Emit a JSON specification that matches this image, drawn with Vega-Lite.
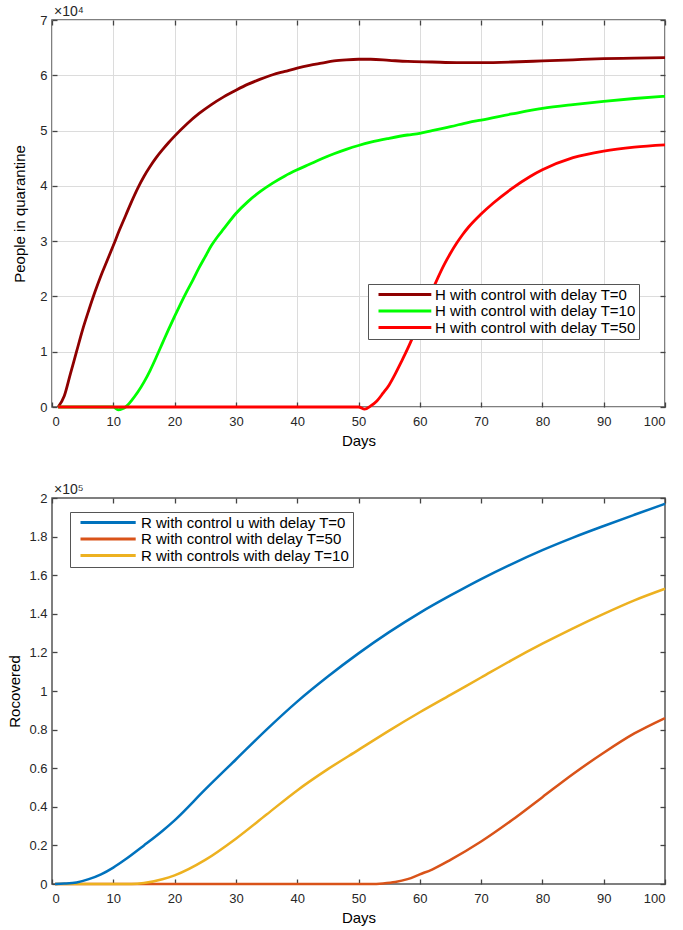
{
  "$schema": "https://vega.github.io/schema/vega-lite/v6.json",
  "background": "white",
  "padding": {"left": 7, "top": 4, "right": 5, "bottom": 5},
  "config": {
    "font": "Liberation Sans",
    "view": {"stroke": "#555555", "strokeWidth": 1.5},
    "axis": {
      "labelFont": "Liberation Sans", "labelFontSize": 13, "labelColor": "#262626",
      "titleFont": "Liberation Sans", "titleFontSize": 15, "titleFontWeight": "normal", "titleColor": "#000000",
      "domain": false, "tickColor": "#444444", "tickSize": -5, "tickWidth": 1.3
    },
    "title": {"anchor": "start", "frame": "group", "fontSize": 14, "fontWeight": "normal", "color": "#262626", "offset": -5, "dx": 2, "font": "Liberation Sans"},
    "legend": {
      "orient": "none", "title": null, "symbolStrokeWidth": 3, "symbolSize": 144,
      "labelFont": "Liberation Sans", "labelFontSize": 15, "labelColor": "#000000",
      "strokeColor": "#555555", "fillColor": "white", "padding": 3, "rowPadding": 0.5, "labelLimit": 400
    }
  },
  "datasets": {
    "top": [
      {"s": "H with control with delay T=0", "d": 1, "v": 0},
      {"s": "H with control with delay T=0", "d": 2, "v": 2000},
      {"s": "H with control with delay T=0", "d": 3, "v": 6000},
      {"s": "H with control with delay T=0", "d": 4, "v": 10000},
      {"s": "H with control with delay T=0", "d": 5, "v": 14000},
      {"s": "H with control with delay T=0", "d": 6, "v": 17500},
      {"s": "H with control with delay T=0", "d": 7, "v": 20800},
      {"s": "H with control with delay T=0", "d": 8, "v": 23800},
      {"s": "H with control with delay T=0", "d": 9, "v": 26500},
      {"s": "H with control with delay T=0", "d": 10, "v": 29200},
      {"s": "H with control with delay T=0", "d": 11, "v": 32000},
      {"s": "H with control with delay T=0", "d": 12, "v": 34600},
      {"s": "H with control with delay T=0", "d": 13, "v": 37200},
      {"s": "H with control with delay T=0", "d": 14, "v": 39600},
      {"s": "H with control with delay T=0", "d": 15, "v": 41700},
      {"s": "H with control with delay T=0", "d": 16, "v": 43500},
      {"s": "H with control with delay T=0", "d": 17, "v": 45100},
      {"s": "H with control with delay T=0", "d": 18, "v": 46500},
      {"s": "H with control with delay T=0", "d": 19, "v": 47800},
      {"s": "H with control with delay T=0", "d": 20, "v": 49000},
      {"s": "H with control with delay T=0", "d": 22, "v": 51200},
      {"s": "H with control with delay T=0", "d": 24, "v": 53100},
      {"s": "H with control with delay T=0", "d": 26, "v": 54700},
      {"s": "H with control with delay T=0", "d": 28, "v": 56100},
      {"s": "H with control with delay T=0", "d": 30, "v": 57300},
      {"s": "H with control with delay T=0", "d": 32, "v": 58400},
      {"s": "H with control with delay T=0", "d": 34, "v": 59300},
      {"s": "H with control with delay T=0", "d": 36, "v": 60100},
      {"s": "H with control with delay T=0", "d": 38, "v": 60700},
      {"s": "H with control with delay T=0", "d": 40, "v": 61300},
      {"s": "H with control with delay T=0", "d": 42, "v": 61800},
      {"s": "H with control with delay T=0", "d": 44, "v": 62200},
      {"s": "H with control with delay T=0", "d": 46, "v": 62600},
      {"s": "H with control with delay T=0", "d": 48, "v": 62800},
      {"s": "H with control with delay T=0", "d": 50, "v": 62900},
      {"s": "H with control with delay T=0", "d": 52, "v": 62900},
      {"s": "H with control with delay T=0", "d": 55, "v": 62700},
      {"s": "H with control with delay T=0", "d": 58, "v": 62500},
      {"s": "H with control with delay T=0", "d": 62, "v": 62400},
      {"s": "H with control with delay T=0", "d": 66, "v": 62300},
      {"s": "H with control with delay T=0", "d": 70, "v": 62300},
      {"s": "H with control with delay T=0", "d": 75, "v": 62400},
      {"s": "H with control with delay T=0", "d": 80, "v": 62600},
      {"s": "H with control with delay T=0", "d": 85, "v": 62800},
      {"s": "H with control with delay T=0", "d": 90, "v": 63000},
      {"s": "H with control with delay T=0", "d": 95, "v": 63100},
      {"s": "H with control with delay T=0", "d": 100, "v": 63200},
      {"s": "H with control with delay T=10", "d": 1, "v": 0},
      {"s": "H with control with delay T=10", "d": 10, "v": 0},
      {"s": "H with control with delay T=10", "d": 10.8, "v": -500},
      {"s": "H with control with delay T=10", "d": 11.5, "v": -300},
      {"s": "H with control with delay T=10", "d": 12, "v": 0},
      {"s": "H with control with delay T=10", "d": 13, "v": 1200},
      {"s": "H with control with delay T=10", "d": 14, "v": 2700},
      {"s": "H with control with delay T=10", "d": 15, "v": 4500},
      {"s": "H with control with delay T=10", "d": 16, "v": 6600},
      {"s": "H with control with delay T=10", "d": 17, "v": 9000},
      {"s": "H with control with delay T=10", "d": 18, "v": 11500},
      {"s": "H with control with delay T=10", "d": 19, "v": 14000},
      {"s": "H with control with delay T=10", "d": 20, "v": 16400},
      {"s": "H with control with delay T=10", "d": 21, "v": 18700},
      {"s": "H with control with delay T=10", "d": 22, "v": 20900},
      {"s": "H with control with delay T=10", "d": 23, "v": 23000},
      {"s": "H with control with delay T=10", "d": 24, "v": 25200},
      {"s": "H with control with delay T=10", "d": 25, "v": 27200},
      {"s": "H with control with delay T=10", "d": 26, "v": 29200},
      {"s": "H with control with delay T=10", "d": 27, "v": 30800},
      {"s": "H with control with delay T=10", "d": 28, "v": 32200},
      {"s": "H with control with delay T=10", "d": 30, "v": 35000},
      {"s": "H with control with delay T=10", "d": 32, "v": 37200},
      {"s": "H with control with delay T=10", "d": 34, "v": 39000},
      {"s": "H with control with delay T=10", "d": 36, "v": 40500},
      {"s": "H with control with delay T=10", "d": 38, "v": 41800},
      {"s": "H with control with delay T=10", "d": 40, "v": 42900},
      {"s": "H with control with delay T=10", "d": 42, "v": 43900},
      {"s": "H with control with delay T=10", "d": 44, "v": 44900},
      {"s": "H with control with delay T=10", "d": 46, "v": 45800},
      {"s": "H with control with delay T=10", "d": 48, "v": 46600},
      {"s": "H with control with delay T=10", "d": 50, "v": 47300},
      {"s": "H with control with delay T=10", "d": 52, "v": 47900},
      {"s": "H with control with delay T=10", "d": 55, "v": 48600},
      {"s": "H with control with delay T=10", "d": 58, "v": 49200},
      {"s": "H with control with delay T=10", "d": 60, "v": 49500},
      {"s": "H with control with delay T=10", "d": 62, "v": 50000},
      {"s": "H with control with delay T=10", "d": 65, "v": 50700},
      {"s": "H with control with delay T=10", "d": 68, "v": 51500},
      {"s": "H with control with delay T=10", "d": 70, "v": 51900},
      {"s": "H with control with delay T=10", "d": 75, "v": 53000},
      {"s": "H with control with delay T=10", "d": 80, "v": 54000},
      {"s": "H with control with delay T=10", "d": 85, "v": 54700},
      {"s": "H with control with delay T=10", "d": 90, "v": 55300},
      {"s": "H with control with delay T=10", "d": 95, "v": 55800},
      {"s": "H with control with delay T=10", "d": 100, "v": 56200},
      {"s": "H with control with delay T=50", "d": 1, "v": 0},
      {"s": "H with control with delay T=50", "d": 50, "v": 0},
      {"s": "H with control with delay T=50", "d": 51, "v": -400},
      {"s": "H with control with delay T=50", "d": 52, "v": 200},
      {"s": "H with control with delay T=50", "d": 53, "v": 1100},
      {"s": "H with control with delay T=50", "d": 54, "v": 2500},
      {"s": "H with control with delay T=50", "d": 55, "v": 4000},
      {"s": "H with control with delay T=50", "d": 56, "v": 6000},
      {"s": "H with control with delay T=50", "d": 57, "v": 8200},
      {"s": "H with control with delay T=50", "d": 58, "v": 10500},
      {"s": "H with control with delay T=50", "d": 59, "v": 13000},
      {"s": "H with control with delay T=50", "d": 60, "v": 15600},
      {"s": "H with control with delay T=50", "d": 61, "v": 18300},
      {"s": "H with control with delay T=50", "d": 62, "v": 21000},
      {"s": "H with control with delay T=50", "d": 63, "v": 23500},
      {"s": "H with control with delay T=50", "d": 64, "v": 25800},
      {"s": "H with control with delay T=50", "d": 65, "v": 27800},
      {"s": "H with control with delay T=50", "d": 66, "v": 29600},
      {"s": "H with control with delay T=50", "d": 67, "v": 31200},
      {"s": "H with control with delay T=50", "d": 68, "v": 32600},
      {"s": "H with control with delay T=50", "d": 70, "v": 34900},
      {"s": "H with control with delay T=50", "d": 72, "v": 36900},
      {"s": "H with control with delay T=50", "d": 75, "v": 39500},
      {"s": "H with control with delay T=50", "d": 78, "v": 41700},
      {"s": "H with control with delay T=50", "d": 80, "v": 42900},
      {"s": "H with control with delay T=50", "d": 85, "v": 45100},
      {"s": "H with control with delay T=50", "d": 90, "v": 46300},
      {"s": "H with control with delay T=50", "d": 95, "v": 47000},
      {"s": "H with control with delay T=50", "d": 100, "v": 47400}
    ],
    "bottom": [
      {"s": "R with control with delay T=50", "d": 0.5, "v": 0},
      {"s": "R with control with delay T=50", "d": 52, "v": 0},
      {"s": "R with control with delay T=50", "d": 54, "v": 300},
      {"s": "R with control with delay T=50", "d": 56, "v": 1000},
      {"s": "R with control with delay T=50", "d": 58, "v": 2500},
      {"s": "R with control with delay T=50", "d": 60, "v": 5000},
      {"s": "R with control with delay T=50", "d": 62, "v": 7500},
      {"s": "R with control with delay T=50", "d": 65, "v": 12500},
      {"s": "R with control with delay T=50", "d": 70, "v": 22000},
      {"s": "R with control with delay T=50", "d": 75, "v": 33000},
      {"s": "R with control with delay T=50", "d": 80, "v": 45000},
      {"s": "R with control with delay T=50", "d": 85, "v": 57000},
      {"s": "R with control with delay T=50", "d": 90, "v": 68000},
      {"s": "R with control with delay T=50", "d": 95, "v": 78000},
      {"s": "R with control with delay T=50", "d": 100, "v": 86000},
      {"s": "R with controls with delay T=10", "d": 0.5, "v": 0},
      {"s": "R with controls with delay T=10", "d": 13, "v": 0},
      {"s": "R with controls with delay T=10", "d": 15, "v": 500},
      {"s": "R with controls with delay T=10", "d": 18, "v": 2500},
      {"s": "R with controls with delay T=10", "d": 20, "v": 4500},
      {"s": "R with controls with delay T=10", "d": 25, "v": 12500},
      {"s": "R with controls with delay T=10", "d": 30, "v": 23500},
      {"s": "R with controls with delay T=10", "d": 35, "v": 36000},
      {"s": "R with controls with delay T=10", "d": 40, "v": 48500},
      {"s": "R with controls with delay T=10", "d": 45, "v": 59500},
      {"s": "R with controls with delay T=10", "d": 50, "v": 69500},
      {"s": "R with controls with delay T=10", "d": 55, "v": 79500},
      {"s": "R with controls with delay T=10", "d": 60, "v": 89000},
      {"s": "R with controls with delay T=10", "d": 65, "v": 98000},
      {"s": "R with controls with delay T=10", "d": 70, "v": 107000},
      {"s": "R with controls with delay T=10", "d": 75, "v": 116000},
      {"s": "R with controls with delay T=10", "d": 80, "v": 124500},
      {"s": "R with controls with delay T=10", "d": 85, "v": 132500},
      {"s": "R with controls with delay T=10", "d": 90, "v": 140000},
      {"s": "R with controls with delay T=10", "d": 95, "v": 147000},
      {"s": "R with controls with delay T=10", "d": 100, "v": 153000},
      {"s": "R with control u with delay T=0", "d": 0.5, "v": 0},
      {"s": "R with control u with delay T=0", "d": 2, "v": 200},
      {"s": "R with control u with delay T=0", "d": 4, "v": 800},
      {"s": "R with control u with delay T=0", "d": 6, "v": 2500},
      {"s": "R with control u with delay T=0", "d": 8, "v": 5000},
      {"s": "R with control u with delay T=0", "d": 10, "v": 8500},
      {"s": "R with control u with delay T=0", "d": 12, "v": 12800},
      {"s": "R with control u with delay T=0", "d": 15, "v": 20000},
      {"s": "R with control u with delay T=0", "d": 18, "v": 27500},
      {"s": "R with control u with delay T=0", "d": 20, "v": 33000},
      {"s": "R with control u with delay T=0", "d": 25, "v": 49000},
      {"s": "R with control u with delay T=0", "d": 30, "v": 64500},
      {"s": "R with control u with delay T=0", "d": 35, "v": 80000},
      {"s": "R with control u with delay T=0", "d": 40, "v": 94500},
      {"s": "R with control u with delay T=0", "d": 45, "v": 107500},
      {"s": "R with control u with delay T=0", "d": 50, "v": 119500},
      {"s": "R with control u with delay T=0", "d": 55, "v": 130500},
      {"s": "R with control u with delay T=0", "d": 60, "v": 140500},
      {"s": "R with control u with delay T=0", "d": 65, "v": 149500},
      {"s": "R with control u with delay T=0", "d": 70, "v": 158000},
      {"s": "R with control u with delay T=0", "d": 75, "v": 165800},
      {"s": "R with control u with delay T=0", "d": 80, "v": 173000},
      {"s": "R with control u with delay T=0", "d": 85, "v": 179500},
      {"s": "R with control u with delay T=0", "d": 90, "v": 185500},
      {"s": "R with control u with delay T=0", "d": 95, "v": 191300},
      {"s": "R with control u with delay T=0", "d": 100, "v": 197000}
    ]
  },
  "spacing": 91,
  "bounds": "flush",
  "resolve": {"scale": {"color": "independent"}, "legend": {"color": "independent"}},
  "vconcat": [
    {
      "width": 613, "height": 387,
      "data": {"name": "top"},
      "title": {"text": "×10⁴"},
      "resolve": {"axis": {"x": "independent", "y": "independent"}},
      "layer": [
        {
          "mark": {"type": "line", "strokeWidth": 2.8, "interpolate": "monotone"},
          "encoding": {
            "x": {"field": "d", "type": "quantitative", "scale": {"domain": [0, 100], "nice": false},
              "axis": {"orient": "bottom", "title": "Days", "values": [0,10,20,30,40,50,60,70,80,90,100], "grid": true, "gridColor": "#dcdcdc", "labelPadding": 13, "titlePadding": 5}},
            "y": {"field": "v", "type": "quantitative", "scale": {"domain": [0, 70000], "nice": false},
              "axis": {"orient": "left", "title": "People in quarantine", "values": [0,10000,20000,30000,40000,50000,60000,70000], "grid": true, "gridColor": "#dcdcdc", "labelPadding": 10, "titlePadding": 12, "labelExpr": "format(datum.value/10000, 'd')"}},
            "color": {"field": "s", "type": "nominal",
              "scale": {"domain": ["H with control with delay T=0", "H with control with delay T=10", "H with control with delay T=50"], "range": ["#8e0000", "#00ff00", "#ff0000"]},
              "legend": {"legendX": 316, "legendY": 264, "symbolType": "M0,0H8.8", "labelOffset": 49}}
          }
        },
        {
          "mark": {"type": "line", "opacity": 0},
          "encoding": {
            "x": {"field": "d", "type": "quantitative", "axis": {"orient": "top", "labels": false, "title": null, "grid": false, "values": [0,10,20,30,40,50,60,70,80,90,100]}},
            "y": {"field": "v", "type": "quantitative", "axis": {"orient": "right", "labels": false, "title": null, "grid": false, "values": [0,10000,20000,30000,40000,50000,60000,70000]}}
          }
        }
      ]
    },
    {
      "width": 613, "height": 386,
      "data": {"name": "bottom"},
      "title": {"text": "×10⁵"},
      "resolve": {"axis": {"x": "independent", "y": "independent"}},
      "layer": [
        {
          "mark": {"type": "line", "strokeWidth": 2.5, "interpolate": "monotone"},
          "encoding": {
            "x": {"field": "d", "type": "quantitative", "scale": {"domain": [0, 100], "nice": false},
              "axis": {"orient": "bottom", "title": "Days", "values": [0,10,20,30,40,50,60,70,80,90,100], "grid": false, "labelPadding": 13, "titlePadding": 5}},
            "y": {"field": "v", "type": "quantitative", "scale": {"domain": [0, 200000], "nice": false},
              "axis": {"orient": "left", "title": "Rocovered", "values": [0,20000,40000,60000,80000,100000,120000,140000,160000,180000,200000], "grid": false, "labelPadding": 10, "titlePadding": 6, "labelExpr": "format(datum.value/100000, '~g')"}},
            "color": {"field": "s", "type": "nominal",
              "scale": {"domain": ["R with control u with delay T=0", "R with control with delay T=50", "R with controls with delay T=10"], "range": ["#0072bd", "#d95319", "#edb120"]},
              "legend": {"legendX": 18, "legendY": 14, "symbolType": "M0,0H9.2", "labelOffset": 53}}
          }
        },
        {
          "mark": {"type": "line", "opacity": 0},
          "encoding": {
            "x": {"field": "d", "type": "quantitative", "axis": {"orient": "top", "labels": false, "title": null, "grid": false, "values": [0,10,20,30,40,50,60,70,80,90,100]}},
            "y": {"field": "v", "type": "quantitative", "axis": {"orient": "right", "labels": false, "title": null, "grid": false, "values": [0,20000,40000,60000,80000,100000,120000,140000,160000,180000,200000]}}
          }
        }
      ]
    }
  ]
}
